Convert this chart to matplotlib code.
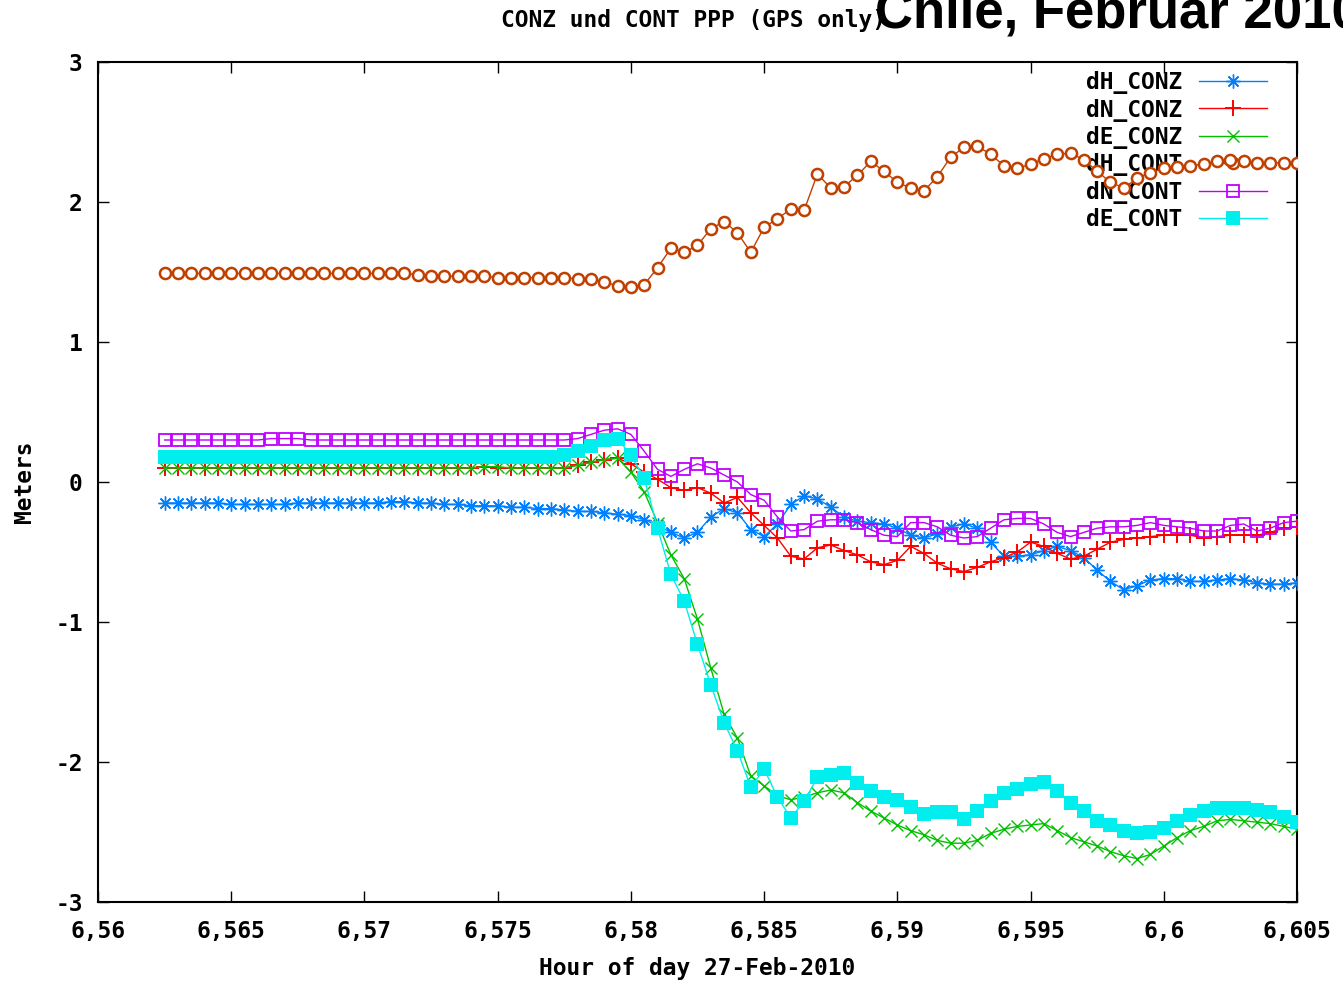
import numpy as np
import matplotlib
matplotlib.use("Agg")
import matplotlib.pyplot as plt

# ── Datos ─────────────────────────────────────────────────────────────────────
T0 = 6.5625
DT = 0.0005
N = 86

dH_CONZ = [
    -0.15, -0.15, -0.15, -0.15, -0.15, -0.16, -0.16, -0.16, -0.16, -0.16,
    -0.15, -0.15, -0.15, -0.15, -0.15, -0.15, -0.15, -0.14, -0.14, -0.15,
    -0.15, -0.16, -0.16, -0.17, -0.17, -0.17, -0.18, -0.18, -0.19, -0.19,
    -0.20, -0.21, -0.21, -0.22, -0.23, -0.24, -0.27, -0.31, -0.36, -0.40,
    -0.36, -0.25, -0.19, -0.22, -0.34, -0.39, -0.30, -0.16, -0.10, -0.12,
    -0.18, -0.25, -0.28, -0.29, -0.30, -0.33, -0.38, -0.40, -0.37, -0.32,
    -0.30, -0.33, -0.43, -0.53, -0.53, -0.52, -0.49, -0.46, -0.49, -0.54,
    -0.63, -0.71, -0.77, -0.74, -0.70, -0.69, -0.69, -0.71, -0.71, -0.70,
    -0.69, -0.70, -0.72, -0.73, -0.73, -0.72,
]
dN_CONZ = [
    0.10, 0.10, 0.10, 0.10, 0.10, 0.10, 0.10, 0.10, 0.10, 0.10,
    0.10, 0.10, 0.10, 0.10, 0.10, 0.10, 0.10, 0.10, 0.10, 0.10,
    0.10, 0.10, 0.10, 0.10, 0.11, 0.10, 0.10, 0.10, 0.10, 0.10,
    0.10, 0.12, 0.14, 0.16, 0.17, 0.13, 0.07, 0.02, -0.04, -0.06,
    -0.04, -0.08, -0.15, -0.11, -0.22, -0.31, -0.40, -0.53, -0.55, -0.47,
    -0.45, -0.49, -0.52, -0.57, -0.59, -0.56, -0.46, -0.51, -0.58, -0.62,
    -0.64, -0.61, -0.57, -0.54, -0.50, -0.43, -0.46, -0.51, -0.55, -0.53,
    -0.48, -0.43, -0.41, -0.40, -0.39, -0.38, -0.38, -0.38, -0.40, -0.39,
    -0.38, -0.38, -0.38, -0.36, -0.33, -0.32,
]
dE_CONZ = [
    0.10, 0.10, 0.10, 0.10, 0.10, 0.10, 0.10, 0.10, 0.10, 0.10,
    0.10, 0.10, 0.10, 0.10, 0.10, 0.10, 0.10, 0.10, 0.10, 0.10,
    0.10, 0.10, 0.10, 0.10, 0.11, 0.11, 0.10, 0.10, 0.10, 0.10,
    0.10, 0.12, 0.14, 0.16, 0.17, 0.07, -0.07, -0.29, -0.52, -0.69,
    -0.98, -1.33, -1.66, -1.83, -2.10, -2.17, -2.24, -2.27, -2.25, -2.22,
    -2.20, -2.22, -2.29, -2.35, -2.40, -2.45, -2.49, -2.52, -2.56, -2.58,
    -2.58, -2.56, -2.51, -2.48, -2.46, -2.45, -2.44, -2.49, -2.54, -2.57,
    -2.60, -2.64, -2.67, -2.69, -2.66, -2.60, -2.54, -2.49, -2.46, -2.42,
    -2.41, -2.42, -2.43, -2.44, -2.46, -2.48,
]
dH_CONT = [
    1.49, 1.49, 1.49, 1.49, 1.49, 1.49, 1.49, 1.49, 1.49, 1.49,
    1.49, 1.49, 1.49, 1.49, 1.49, 1.49, 1.49, 1.49, 1.49, 1.48,
    1.47, 1.47, 1.47, 1.47, 1.47, 1.46, 1.46, 1.46, 1.46, 1.46,
    1.46, 1.45, 1.45, 1.43, 1.40, 1.39, 1.41, 1.53, 1.67, 1.64,
    1.69, 1.81, 1.86, 1.78, 1.64, 1.82, 1.88, 1.95, 1.94, 2.20,
    2.10, 2.11, 2.19, 2.29, 2.22, 2.14, 2.10, 2.08, 2.18, 2.32,
    2.39, 2.40, 2.34, 2.26, 2.24, 2.27, 2.31, 2.34, 2.35, 2.30,
    2.22, 2.14, 2.10, 2.17, 2.21, 2.24, 2.25, 2.26, 2.27, 2.29,
    2.30, 2.29, 2.28, 2.28, 2.28, 2.28,
]
dN_CONT = [
    0.30, 0.30, 0.30, 0.30, 0.30, 0.30, 0.30, 0.30, 0.31, 0.31,
    0.31, 0.30, 0.30, 0.30, 0.30, 0.30, 0.30, 0.30, 0.30, 0.30,
    0.30, 0.30, 0.30, 0.30, 0.30, 0.30, 0.30, 0.30, 0.30, 0.30,
    0.30, 0.31, 0.34, 0.37, 0.38, 0.34, 0.22, 0.09, 0.04, 0.09,
    0.13, 0.10, 0.05, 0.00, -0.09, -0.13, -0.25, -0.35, -0.34, -0.28,
    -0.27, -0.27, -0.29, -0.34, -0.38, -0.39, -0.29, -0.29, -0.32, -0.38,
    -0.40, -0.39, -0.33, -0.27, -0.26, -0.26, -0.30, -0.36, -0.39, -0.36,
    -0.33, -0.32, -0.32, -0.31, -0.29, -0.31, -0.32, -0.33, -0.35, -0.35,
    -0.31, -0.30, -0.35, -0.33, -0.29, -0.28,
]
dE_CONT = [
    0.18, 0.18, 0.18, 0.18, 0.18, 0.18, 0.18, 0.18, 0.18, 0.18,
    0.18, 0.18, 0.18, 0.18, 0.18, 0.18, 0.18, 0.18, 0.18, 0.18,
    0.18, 0.18, 0.18, 0.18, 0.18, 0.18, 0.18, 0.18, 0.18, 0.18,
    0.19, 0.22, 0.26, 0.30, 0.31, 0.19, 0.03, -0.33, -0.66, -0.85,
    -1.16, -1.45, -1.72, -1.92, -2.18, -2.05, -2.25, -2.40, -2.28, -2.11,
    -2.09, -2.08, -2.15, -2.21, -2.25, -2.27, -2.32, -2.37, -2.36, -2.36,
    -2.41, -2.35, -2.28, -2.22, -2.19, -2.16, -2.14, -2.21, -2.29, -2.35,
    -2.42, -2.45, -2.49, -2.51, -2.50, -2.47, -2.42, -2.38, -2.35, -2.33,
    -2.33, -2.33, -2.34, -2.36, -2.39, -2.43,
]

x_ticks = [6.56, 6.565, 6.57, 6.575, 6.58, 6.585, 6.59, 6.595, 6.6, 6.605]
x_ticklabels = ["6,56", "6,565", "6,57", "6,575", "6,58", "6,585", "6,59", "6,595", "6,6", "6,605"]
y_ticks = [-3, -2, -1, 0, 1, 2, 3]

t = T0 + DT * np.arange(N)

# ── Estilo tipo gnuplot ───────────────────────────────────────────────────────
plt.rcParams["font.family"] = ["DejaVu Sans Mono"]
plt.rcParams["font.weight"] = "bold"
plt.rcParams["axes.unicode_minus"] = False
FS = 16.5

fig = plt.figure(figsize=(13.43, 9.82), dpi=100)
ax = fig.add_axes([98 / 1343, 1 - 902 / 982, 1199 / 1343, 840 / 982])

series = [
    ("dH_CONZ", dH_CONZ, "#0080ff", dict(marker=(8, 2, 0), ms=10, mew=1.0)),
    ("dN_CONZ", dN_CONZ, "#ff0000", dict(marker="+", ms=12, mew=1.4)),
    ("dE_CONZ", dE_CONZ, "#00c000", dict(marker="x", ms=9, mew=1.0)),
    ("dH_CONT", dH_CONT, "#c04000", dict(marker="o", ms=8, mew=1.8, mfc="white")),
    ("dN_CONT", dN_CONT, "#c000ff", dict(marker="s", ms=9, mew=1.3, mfc="none")),
    ("dE_CONT", dE_CONT, "#00eeee", dict(marker="s", ms=9.5, mew=0.0)),
]
for k, (name, vals, col, mk) in enumerate(series):
    ax.plot(t, vals, color=col, lw=1.0, label=name, zorder=3 + k, **mk)

ax.set_xlim(6.56, 6.605)
ax.set_ylim(-3, 3)
ax.set_xticks(x_ticks)
ax.set_xticklabels(x_ticklabels)
ax.set_yticks(y_ticks)
ax.tick_params(direction="in", length=8, width=1.0, top=True, right=True,
               labelsize=FS, colors="black")
ax.tick_params(axis="x", pad=13)
ax.tick_params(axis="y", pad=11)
for s in ax.spines.values():
    s.set_linewidth(1.5)

ax.set_xlabel("Hour of day 27-Feb-2010", fontsize=FS, fontweight="bold")
ax.xaxis.label.set_va("center")
ax.xaxis.set_label_coords(0.5, (902 - 968) / 840)
ax.set_ylabel("Meters", fontsize=FS, fontweight="bold")
ax.yaxis.label.set_va("center")
ax.yaxis.set_label_coords((25 - 98) / 1199, 0.5)

ax.text(0.497, (902 - 20) / 840, "CONZ und CONT PPP (GPS only)", transform=ax.transAxes,
        ha="center", va="center", fontsize=FS, fontweight="bold")

leg = ax.legend(loc="upper right", bbox_to_anchor=(0.983, 1.0), frameon=False,
                markerfirst=False, fontsize=FS, handlelength=2.97, labelspacing=0.19,
                borderaxespad=0.0, handletextpad=0.74)
leg.set_zorder(1)

# texto grande superpuesto (recortado por el borde)
fig.text(875 / 1343, 1 - 27 / 982, "Chile, Februar 2010", fontsize=38,
         fontweight="bold", family=["Liberation Sans", "DejaVu Sans"],
         ha="left", va="baseline")

fig.savefig("out.png", dpi=100)
